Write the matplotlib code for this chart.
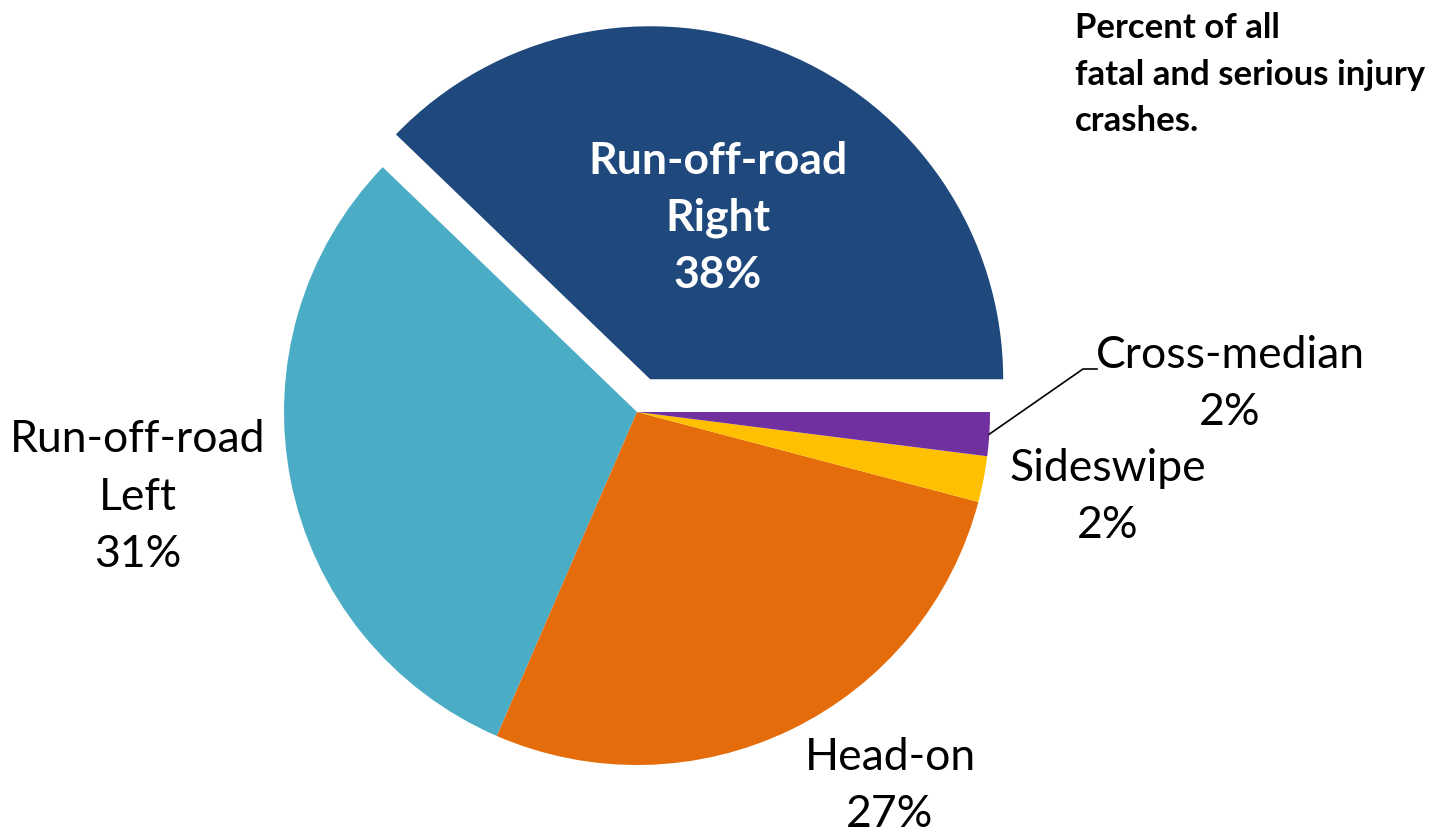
import numpy as np
import matplotlib.pyplot as plt

# crash types, share of fatal and serious injury crashes
labels = ['Run-off-road\nRight', 'Run-off-road\nLeft', 'Head-on', 'Sideswipe', 'Cross-median']
share = [37.8, 30.7, 27.4, 2.1, 2.0]
pct_text = ['38%', '31%', '27%', '2%', '2%']
colors = ['#1F497D', '#4BACC6', '#E46C0A', '#FFC000', '#7030A0']
explode = [0.10, 0, 0, 0, 0]

plt.rcParams['font.family'] = ['Lato', 'DejaVu Sans']

W, H = 1434, 834
cx, cy, R = 637, 412, 353  # pie centre / radius in pixels

fig = plt.figure(figsize=(W / 100, H / 100), dpi=100)
ax = fig.add_axes([0, 0, 1, 1])
wedges, _ = ax.pie(share, colors=colors, explode=explode, startangle=0,
                   counterclock=True, radius=1,
                   wedgeprops=dict(linewidth=0))
ax.set_xlim(-cx / R, (W - cx) / R)
ax.set_ylim(-(H - cy) / R, cy / R)
ax.set_aspect('equal')
ax.axis('off')

def px(x, y):
    return (x - cx) / R, (cy - y) / R

fs = 32
txt = ['%s\n%s' % (l, p) for l, p in zip(labels, pct_text)]
pos = [(718, 218), (138, 497), (890, 786), (1108, 497), (1230, 384)]
for i, (t, (x, y)) in enumerate(zip(txt, pos)):
    if i == 0:
        ax.text(*px(x, y), t, ha='center', va='center', fontsize=fs,
                fontweight='bold', color='white', linespacing=1.5)
    else:
        ax.text(*px(x, y), t, ha='center', va='center', fontsize=fs,
                color='black', linespacing=1.5)

# leader line for cross-median
w = wedges[4]
mid = np.deg2rad((w.theta1 + w.theta2) / 2)
x0, y0 = np.cos(mid), np.sin(mid)
x1, y1 = px(1083, 369)
x2, y2 = px(1097, 369)
ax.plot([x0, x1, x2], [y0, y1, y2], color='black', lw=1.2)

fig.text(1075 / W, 1 - 12 / H, 'Percent of all\nfatal and serious injury\ncrashes.',
         ha='left', va='top', fontsize=25, fontweight='bold', linespacing=1.56)

fig.savefig('out.png', dpi=100)
